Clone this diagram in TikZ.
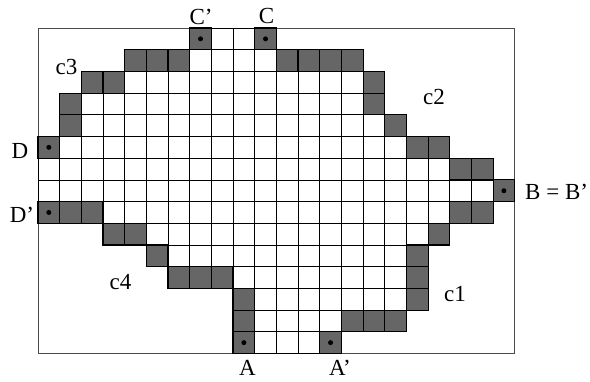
\documentclass[tikz,border=0pt]{standalone}
\usepackage{fontspec}
\setmainfont{Liberation Serif}
\begin{document}
\begin{tikzpicture}[x=1pt,y=1pt]
\useasboundingbox (0,0) rectangle (590,382);
\tikzset{
 wcell/.style={draw=black,line width=0.7pt,fill=white},
 gcell/.style={draw=black,line width=1.1pt,fill=black!60},
 dotmark/.style={fill=black,circle,inner sep=0pt,minimum size=5pt},
 lbl/.style={font=\fontsize{23}{26}\selectfont,inner sep=0pt}
}
\begin{scope}[shift={(38,354)},x=21.67pt,y=-21.7pt]
\draw[draw=black!70,line width=0.7pt] (0,0) rectangle (22,15);
\foreach \r/\a/\b in {0/8/9,1/7/10,2/4/14,3/2/14,4/2/15,5/1/16,6/0/18,7/0/20,8/3/18,9/5/17,10/6/16,11/9/16,12/10/16,13/10/13,14/10/12}{
  \foreach \c in {\a,...,\b}{ \draw[wcell] (\c,\r) rectangle ++(1,1); }
}
\foreach \c/\r in {7/0,10/0,4/1,5/1,6/1,11/1,12/1,13/1,14/1,2/2,3/2,15/2,1/3,15/3,1/4,16/4,0/5,17/5,18/5,19/6,20/6,21/7,0/8,1/8,2/8,19/8,20/8,3/9,4/9,18/9,5/10,17/10,6/11,7/11,8/11,17/11,9/12,17/12,9/13,14/13,15/13,16/13,9/14,13/14}{
  \draw[gcell] (\c,\r) rectangle ++(1,1);
}
\node[dotmark] (dC1) at (7.5,0.5) {};
\node[dotmark] (dC) at (10.5,0.5) {};
\node[dotmark] (dD) at (0.5,5.5) {};
\node[dotmark] (dD1) at (0.5,8.5) {};
\node[dotmark] (dB) at (21.5,7.5) {};
\node[dotmark] (dA) at (9.5,14.5) {};
\node[dotmark] (dA1) at (13.5,14.5) {};
\end{scope}
\node[lbl] (lC1) at (201,365.5) {C’};
\node[lbl] (lC) at (266.5,365.5) {C};
\node[lbl] (l3) at (66.5,314.5) {c3};
\node[lbl] (l2) at (434,284.5) {c2};
\node[lbl] (lD) at (20,231.5) {D};
\node[lbl] (lD1) at (22,167) {D’};
\node[lbl,anchor=west] (lB) at (525,190) {B = B’};
\node[lbl] (l4) at (120.5,99.5) {c4};
\node[lbl] (l1) at (455,87.5) {c1};
\node[lbl] (lA) at (247.5,14) {A};
\node[lbl] (lA1) at (340,14) {A’};
\end{tikzpicture}
\end{document}
